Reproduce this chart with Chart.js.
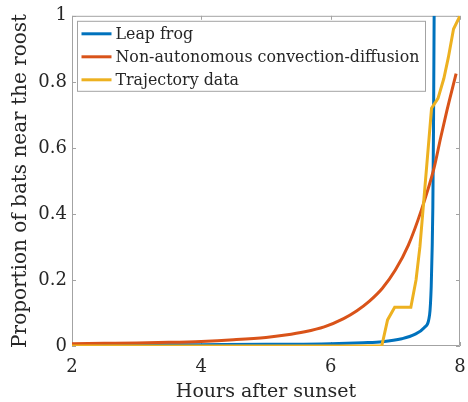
<!DOCTYPE html>
<html>
<head>
<meta charset="utf-8">
<script src="https://cdn.jsdelivr.net/npm/chart.js@4.4.0/dist/chart.umd.min.js"></script>
<style>
  html, body { margin: 0; padding: 0; background: #fff; }
  #wrap { width: 468px; height: 402px; }
</style>
</head>
<body>
<div id="wrap"><canvas id="chart" width="468" height="402"></canvas></div>
<script>
// tick labels
const xTicks = [2, 4, 6, 8];
const yTicks = [0, 0.2, 0.4, 0.6, 0.8, 1];

const seriesNames = ['Leap frog', 'Non-autonomous convection-diffusion', 'Trajectory data'];

// Leap frog
const leapX = [2, 3, 4, 5, 6, 6.5, 6.8, 7.1, 7.3, 7.45, 7.53, 7.555, 7.57, 7.58, 7.59, 7.6];
const leapY = [0.002, 0.003, 0.004, 0.005, 0.007, 0.01, 0.013, 0.022, 0.035, 0.056, 0.095, 0.18, 0.3, 0.42, 0.65, 1.0];

// Non-autonomous convection-diffusion
const convX = [2, 2.5, 3, 3.5, 4, 4.5, 5, 5.3, 5.6, 5.9, 6.2, 6.4, 6.6, 6.8, 7.0, 7.2, 7.4, 7.6, 7.7, 7.8, 7.94];
const convY = [0.007, 0.008, 0.009, 0.011, 0.014, 0.019, 0.026, 0.033, 0.043, 0.058, 0.083, 0.106, 0.136, 0.175, 0.23, 0.305, 0.41, 0.54, 0.63, 0.715, 0.825];

// Trajectory data
const trajX = [2, 6.79, 6.88, 6.99, 7.24, 7.32, 7.38, 7.56, 7.66, 7.75, 7.82, 7.9, 8.0];
const trajY = [0, 0, 0.079, 0.117, 0.117, 0.2, 0.3, 0.72, 0.75, 0.81, 0.874, 0.96, 1.0];

const colors = ['#0072BD', '#D95319', '#EDB120'];
const serif = "'DejaVu Serif', 'Liberation Serif', serif";
const boxColor = '#a3a3a3';
const textColor = '#262626';

function pts(xs, ys) {
  return xs.map((x, i) => ({ x: x, y: ys[i] }));
}

// axes box with inward ticks on all four sides (MATLAB style)
const boxPlugin = {
  id: 'boxPlugin',
  beforeDatasetsDraw(chart) {
    const ctx = chart.ctx;
    const a = chart.chartArea;
    const xs = chart.scales.x;
    const ys = chart.scales.y;
    const len = 4;
    ctx.save();
    ctx.strokeStyle = boxColor;
    ctx.lineWidth = 1;
    ctx.beginPath();
    ctx.rect(a.left + 0.5, a.top + 0.5, a.right - a.left - 1, a.bottom - a.top - 1);
    xTicks.forEach((v) => {
      const px = Math.round(xs.getPixelForValue(v)) + 0.5;
      ctx.moveTo(px, a.bottom);
      ctx.lineTo(px, a.bottom - len);
      ctx.moveTo(px, a.top);
      ctx.lineTo(px, a.top + len);
    });
    yTicks.forEach((v) => {
      const py = Math.round(ys.getPixelForValue(v)) + 0.5;
      ctx.moveTo(a.left, py);
      ctx.lineTo(a.left + len, py);
      ctx.moveTo(a.right, py);
      ctx.lineTo(a.right - len, py);
    });
    ctx.stroke();
    ctx.restore();
  }
};

// legend box inside the axes, top left
const legendPlugin = {
  id: 'legendPlugin',
  afterDraw(chart) {
    const ctx = chart.ctx;
    const a = chart.chartArea;
    const bx = a.left + 5.5;
    const by = a.top + 5.5;
    const bw = 348;
    const bh = 70;
    ctx.save();
    ctx.fillStyle = '#fff';
    ctx.fillRect(bx, by, bw, bh);
    ctx.strokeStyle = boxColor;
    ctx.lineWidth = 1;
    ctx.strokeRect(bx, by, bw, bh);
    // fit the longest label to the box like the original
    ctx.font = '20px ' + serif;
    const widest = Math.max(...chart.data.datasets.map((ds) => ctx.measureText(ds.label).width));
    const size = Math.min(18, 20 * 304 / widest);
    ctx.font = size.toFixed(2) + 'px ' + serif;
    ctx.textBaseline = 'middle';
    chart.data.datasets.forEach((ds, i) => {
      const cy = by + 12.5 + i * 23;
      ctx.strokeStyle = ds.borderColor;
      ctx.lineWidth = 3;
      ctx.beginPath();
      ctx.moveTo(bx + 4, cy);
      ctx.lineTo(bx + 34, cy);
      ctx.stroke();
      ctx.fillStyle = textColor;
      ctx.fillText(ds.label, bx + 38, cy + 1);
    });
    ctx.restore();
  }
};

const datasets = [
  { label: seriesNames[0], data: pts(leapX, leapY), borderColor: colors[0], order: 3, cubicInterpolationMode: 'monotone' },
  { label: seriesNames[1], data: pts(convX, convY), borderColor: colors[1], order: 2, cubicInterpolationMode: 'monotone' },
  { label: seriesNames[2], data: pts(trajX, trajY), borderColor: colors[2], order: 1, tension: 0 }
].map((d) => Object.assign({ borderWidth: 3, pointRadius: 0, fill: false, backgroundColor: d.borderColor }, d));

new Chart(document.getElementById('chart').getContext('2d'), {
  type: 'line',
  data: { datasets: datasets },
  options: {
    responsive: false,
    animation: false,
    devicePixelRatio: 1,
    layout: { padding: { top: 15, right: 8, left: 0, bottom: 0 } },
    plugins: { legend: { display: false }, tooltip: { enabled: false } },
    scales: {
      x: {
        type: 'linear',
        min: 2,
        max: 8,
        afterBuildTicks: (scale) => { scale.ticks = xTicks.map((v) => ({ value: v })); },
        afterFit: (scale) => {
          scale.height = 56;
          scale.paddingLeft = 0;
          scale.paddingRight = 0;
        },
        grid: { display: false, drawTicks: false },
        border: { display: false },
        ticks: { color: textColor, font: { family: serif, size: 18 }, padding: 11, maxRotation: 0 },
        title: { display: true, text: 'Hours after sunset', color: textColor, font: { family: serif, size: 19 }, padding: { top: 0, bottom: -1 } }
      },
      y: {
        type: 'linear',
        min: 0,
        max: 1,
        afterBuildTicks: (scale) => { scale.ticks = yTicks.map((v) => ({ value: v })); },
        afterFit: (scale) => { scale.width = 72; },
        grid: { display: false, drawTicks: false },
        border: { display: false },
        ticks: { color: textColor, font: { family: serif, size: 18 }, padding: 5, callback: (v) => String(v) },
        title: { display: true, text: 'Proportion of bats near the roost', color: textColor, font: { family: serif, size: 20 }, padding: { top: 9, bottom: 0 } }
      }
    }
  },
  plugins: [boxPlugin, legendPlugin]
});
</script>
</body>
</html>
